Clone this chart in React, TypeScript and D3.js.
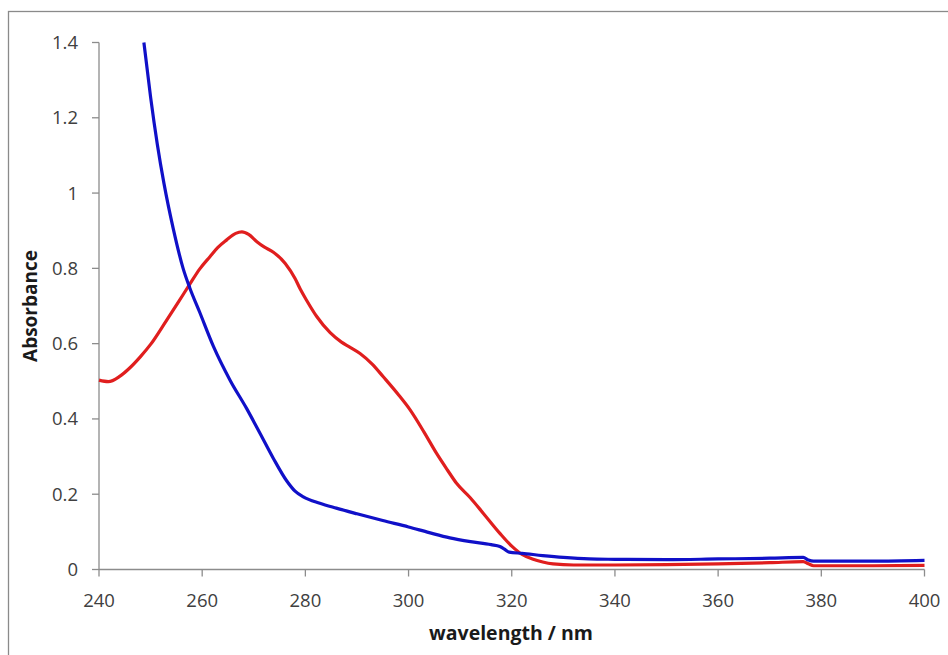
import React from "react";
import * as d3 from "d3";

const blueX = [248.7, 250, 251.3, 252.6, 254.4, 256.3, 257.6, 259.5, 262.2, 265.4, 268.6, 271.2, 273.8, 276.4, 278, 279.6, 282.8, 286, 290, 295, 300, 304, 308, 312, 316, 317.7, 318.5, 319.5, 322, 326, 330, 335, 340, 350, 360, 370, 376.5, 377.5, 378.5, 390, 400];
const blueY = [1.4, 1.255, 1.13, 1.025, 0.905, 0.8, 0.748, 0.684, 0.592, 0.503, 0.428, 0.362, 0.295, 0.235, 0.208, 0.193, 0.176, 0.163, 0.148, 0.13, 0.113, 0.098, 0.084, 0.074, 0.066, 0.061, 0.055, 0.046, 0.043, 0.037, 0.032, 0.028, 0.027, 0.026, 0.028, 0.03, 0.032, 0.025, 0.022, 0.022, 0.024];

const redX = [240, 241.8, 244, 246, 248, 250, 253, 255.5, 257.6, 259.5, 261.5, 263, 264.7, 266.5, 267.7, 269, 270.6, 272, 273.8, 276.1, 278, 279, 280.2, 282.2, 284.8, 287, 288.6, 290.6, 293, 295.1, 298, 300.3, 303, 305.4, 307.5, 309.3, 312, 314.5, 317.7, 320, 322, 324, 326, 328, 332, 340, 350, 360, 370, 376.5, 377.5, 378.5, 390, 400];
const redY = [0.503, 0.499, 0.513, 0.536, 0.565, 0.598, 0.66, 0.713, 0.758, 0.798, 0.831, 0.855, 0.875, 0.893, 0.897, 0.89, 0.871, 0.857, 0.843, 0.813, 0.773, 0.745, 0.716, 0.672, 0.629, 0.604, 0.591, 0.574, 0.545, 0.512, 0.465, 0.424, 0.365, 0.309, 0.265, 0.229, 0.19, 0.149, 0.096, 0.062, 0.04, 0.028, 0.02, 0.015, 0.012, 0.012, 0.013, 0.015, 0.018, 0.021, 0.015, 0.01, 0.01, 0.011];

const xTicks = [240, 260, 280, 300, 320, 340, 360, 380, 400];
const yTicks = [0, 0.2, 0.4, 0.6, 0.8, 1, 1.2, 1.4];

const W = 948;
const H = 655;

export default function App() {
  const x = d3.scaleLinear().domain([240, 400]).range([99, 924.5]);
  const y = d3.scaleLinear().domain([0, 1.4]).range([569.5, 42.5]);
  const line = d3
    .line<[number, number]>()
    .x((d) => x(d[0]))
    .y((d) => y(d[1]))
    .curve(d3.curveMonotoneX);
  const blue = blueX.map((v, i) => [v, blueY[i]] as [number, number]);
  const red = redX.map((v, i) => [v, redY[i]] as [number, number]);
  const font = "'Open Sans', 'Noto Sans', sans-serif";
  const axisColor = "#8c8c8c";
  return (
    <svg
      width={W}
      height={H}
      style={{ position: "absolute", left: 0, top: 0, background: "#fff" }}
    >
      <rect x={8.5} y={11.5} width={W + 10} height={H + 10} fill="#fff" stroke="#8a8a8a" strokeWidth={1.3} />
      <line x1={x(240)} x2={x(240)} y1={y(1.4)} y2={y(0)} stroke={axisColor} strokeWidth={1.3} />
      <line x1={x(240)} x2={x(400)} y1={y(0)} y2={y(0)} stroke={axisColor} strokeWidth={1.3} />
      {yTicks.map((t) => (
        <g key={"y" + t}>
          <line x1={x(240) - 7} x2={x(240)} y1={y(t)} y2={y(t)} stroke={axisColor} strokeWidth={1.3} />
          <text x={78} y={y(t) + 6.5} textAnchor="end" fontFamily={font} fontSize={18.5} fill="#404040">
            {String(t)}
          </text>
        </g>
      ))}
      {xTicks.map((t) => (
        <g key={"x" + t}>
          <line x1={x(t)} x2={x(t)} y1={y(0)} y2={y(0) + 7} stroke={axisColor} strokeWidth={1.3} />
          <text x={x(t)} y={607} textAnchor="middle" fontFamily={font} fontSize={18.5} fill="#404040">
            {String(t)}
          </text>
        </g>
      ))}
      <text x={511} y={640} textAnchor="middle" fontFamily={font} fontWeight="bold" fontSize={19.5} fill="#1a1a1a">
        wavelength / nm
      </text>
      <text
        transform={`translate(37,306) rotate(-90)`}
        textAnchor="middle"
        fontFamily={font}
        fontWeight="bold"
        fontSize={19}
        fill="#1a1a1a"
      >
        Absorbance
      </text>
      <path d={line(red) || ""} fill="none" stroke="#e01e1e" strokeWidth={3.2} strokeLinejoin="round" />
      <path d={line(blue) || ""} fill="none" stroke="#1010c8" strokeWidth={3.2} strokeLinejoin="round" />
    </svg>
  );
}
